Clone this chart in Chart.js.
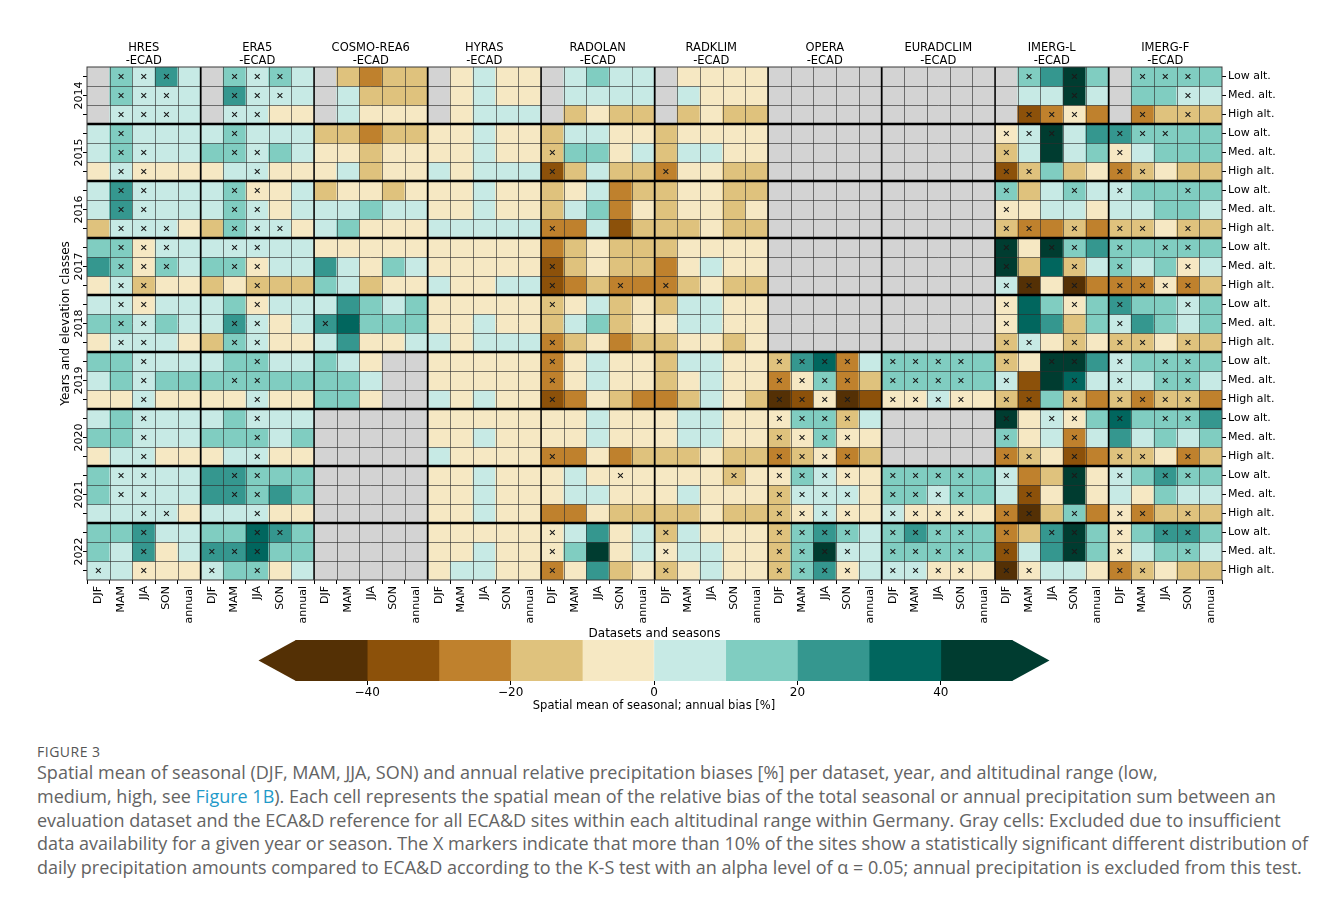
<!DOCTYPE html>
<html>
<head>
<meta charset="utf-8">
<script src="https://cdn.jsdelivr.net/npm/chart.js@4.4.1/dist/chart.umd.min.js"></script>
<style>
  html, body { margin: 0; padding: 0; background: #fff; }
  #wrap { position: relative; width: 1328px; height: 902px; overflow: hidden; background: #fff; }
  #heat { position: absolute; left: 0; top: 0; }
  #cbar { position: absolute; left: 0; top: 634px; }
  #figlabel { position: absolute; left: 37px; top: 742px; font-family: "Open Sans", sans-serif;
              font-size: 14px; letter-spacing: 0.5px; color: #555; }
  #caption { position: absolute; left: 37px; top: 761px; font-family: "Open Sans", sans-serif;
             font-size: 18px; line-height: 23.75px; color: #636363; white-space: nowrap; }
  #caption a { color: #1f9ac9; text-decoration: none; }
</style>
</head>
<body>
<div id="wrap">
  <canvas id="heat" width="1328" height="645"></canvas>
  <canvas id="cbar" width="1328" height="82"></canvas>
  <div id="figlabel">FIGURE 3</div>
  <div id="caption">Spatial mean of seasonal (DJF, MAM, JJA, SON) and annual relative precipitation biases [%] per dataset, year, and altitudinal range (low,<br>medium, high, see <a>Figure 1B</a>). Each cell represents the spatial mean of the relative bias of the total seasonal or annual precipitation sum between an<br>evaluation dataset and the ECA&amp;D reference for all ECA&amp;D sites within each altitudinal range within Germany. Gray cells: Excluded due to insufficient<br>data availability for a given year or season. The X markers indicate that more than 10% of the sites show a statistically significant different distribution of<br>daily precipitation amounts compared to ECA&amp;D according to the K-S test with an alpha level of α = 0.05; annual precipitation is excluded from this test.</div>
</div>
<script>
// ---- categories ----
const YEARS = ['2014', '2015', '2016', '2017', '2018', '2019', '2020', '2021', '2022'];
const ELEVATIONS = ['Low alt.', 'Med. alt.', 'High alt.'];
const SEASONS = ['DJF', 'MAM', 'JJA', 'SON', 'annual'];
const DATASETS = [
  ['HRES', '-ECAD'], ['ERA5', '-ECAD'], ['COSMO-REA6', '-ECAD'], ['HYRAS', '-ECAD'], ['RADOLAN', '-ECAD'],
  ['RADKLIM', '-ECAD'], ['OPERA', '-ECAD'], ['EURADCLIM', '-ECAD'], ['IMERG-L', '-ECAD'], ['IMERG-F', '-ECAD']
];

// ---- colour classes of the bias [%] ----
const LEVELS = [-50, -40, -30, -20, -10, 0, 10, 20, 30, 40, 50];
const PALETTE = ['#543005', '#8c510a', '#bf812d', '#dfc27d', '#f6e8c3', '#c7eae5', '#80cdc1', '#35978f', '#01665e', '#003c30'];
const CB_TICKS = [-40, -20, 0, 20, 40];
const EXCLUDED = '#d3d3d3';

// ---- spatial mean bias [%]; rows = year x (low, med, high), cols = DJF, MAM, JJA, SON, annual ----
const N = null; // excluded
const HRES = [
  [N, 15, 5, 25, 5], [N, 15, 5, 5, 5], [N, 5, 5, 5, 5],
  [5, 15, 5, 5, 5], [5, 15, 5, 5, 5], [-5, 5, -5, -5, -5],
  [5, 25, 5, 5, 5], [5, 25, 5, 5, 5], [-15, 5, 5, 5, -5],
  [15, 15, -5, 5, 5], [25, 15, -5, 15, 5], [-5, 5, -15, -5, -5],
  [5, 5, -5, 5, 5], [15, 15, 5, 15, 5], [-5, 5, 5, 5, -5],
  [15, 15, 5, 5, 5], [5, 15, 5, 15, 15], [-5, -5, 5, -5, -5],
  [5, 15, 5, 5, 5], [15, 15, 5, 5, 5], [-5, 5, 5, -5, -5],
  [15, 5, 5, 5, 5], [15, 5, 5, 5, 5], [5, 5, 5, 5, -5],
  [15, 15, 25, 5, 5], [15, 5, 25, -5, 5], [5, 5, -5, -5, -5]
];
const ERA5 = [
  [N, 15, 5, 15, 5], [N, 25, 5, 5, 5], [N, 5, 5, -5, -5],
  [5, 15, 5, 5, 5], [15, 15, 5, 15, 5], [-5, 5, 5, -5, -5],
  [5, 15, -5, -5, 5], [5, 15, 5, -5, 5], [-15, 15, 5, 5, -5],
  [5, 5, 5, 5, 5], [15, 15, -5, 5, 5], [-15, -5, -15, -15, -15],
  [5, 15, -5, 5, 5], [5, 25, 5, -5, 5], [-15, 15, 5, -5, -5],
  [5, 15, 15, 5, 5], [15, 15, 15, 15, 15], [-5, -5, 5, -5, -5],
  [5, 15, 5, 5, 5], [15, 15, 15, 5, 15], [-5, 5, 5, -5, -5],
  [25, 25, 15, 15, 15], [25, 25, 15, 25, 15], [5, 5, 5, -5, -5],
  [15, 15, 35, 25, 15], [25, 25, 35, 15, 15], [5, 15, 15, -5, 5]
];
const COSMO = [
  [N, -15, -25, -15, -15], [N, 5, -15, -15, -15], [N, 5, -5, -5, -5],
  [-15, -15, -25, -15, -15], [-5, -5, -15, -5, -5], [-5, 5, -15, -5, -5],
  [-15, -5, -5, -15, -5], [5, 5, 15, 5, 5], [5, 15, -5, -5, -5],
  [-5, -5, -5, -5, -5], [25, 5, -5, 15, 5], [15, 5, -15, -5, -5],
  [5, 25, 15, 5, 15], [25, 35, 15, 15, 15], [5, 25, -5, -5, 5],
  [15, 5, -5, N, N], [15, 15, 5, N, N], [15, 15, -5, N, N],
  [N, N, N, N, N], [N, N, N, N, N], [N, N, N, N, N],
  [N, N, N, N, N], [N, N, N, N, N], [N, N, N, N, N],
  [N, N, N, N, N], [N, N, N, N, N], [N, N, N, N, N]
];
const HYRAS = [
  [N, -5, 5, -5, -5], [N, -5, 5, -5, -5], [N, -5, 5, 5, 5],
  [-5, -5, 5, -5, -5], [-5, -5, 5, -5, -5], [5, -5, 5, 5, 5],
  [-5, -5, 5, -5, -5], [-5, -5, 5, -5, -5], [5, 5, 5, 5, 5],
  [-5, -5, -5, -5, -5], [-5, -5, -5, -5, -5], [5, -5, -5, 5, 5],
  [-5, -5, -5, -5, -5], [-5, -5, 5, -5, -5], [5, -5, 5, 5, 5],
  [-5, -5, -5, -5, -5], [-5, -5, -5, -5, -5], [5, -5, 5, -5, -5],
  [-5, -5, -5, -5, -5], [-5, -5, 5, -5, -5], [5, -5, -5, -5, -5],
  [-5, -5, 5, -5, -5], [-5, -5, 5, -5, -5], [-5, -5, 5, -5, -5],
  [-5, -5, -5, -5, -5], [-5, -5, 5, -5, -5], [-5, 5, 5, -5, -5]
];
const RADOLAN = [
  [N, 5, 15, 5, 5], [N, 5, 5, 5, 5], [N, -15, -5, -15, -15],
  [-15, 5, 5, -5, -5], [-15, 15, 15, -5, 5], [-35, -15, 5, -15, -15],
  [-15, -5, 5, -25, -15], [-15, 5, 15, -25, -5], [-25, -25, 5, -35, -15],
  [-25, -15, -5, -15, -15], [-35, -15, -5, -15, -15], [-35, -25, -15, -25, -25],
  [-15, -5, 5, -15, -5], [-15, 5, 15, -15, -5], [-25, -15, -5, -25, -15],
  [-25, -5, 5, -5, -5], [-25, -5, 5, -5, -5], [-35, -25, -5, -15, -25],
  [-5, -5, 5, -5, -5], [-5, -5, 5, -5, -5], [-25, -25, -5, -25, -15],
  [-5, 5, -5, -5, -5], [-5, 5, 5, -5, -5], [-25, -25, -5, -15, -15],
  [-5, 5, 25, -5, 5], [-5, 15, 45, -5, 5], [-25, -5, 25, -15, -5]
];
const RADKLIM = [
  [N, -5, -5, -5, -5], [N, 5, -5, -5, -5], [N, -15, -5, -15, -15],
  [-15, -5, -5, -5, -5], [-15, 5, 5, -5, -5], [-25, -5, -5, -15, -15],
  [-15, -5, -5, -15, -15], [-15, -5, -5, -15, -5], [-15, -15, -5, -15, -15],
  [-15, -5, -5, -5, -5], [-25, -5, 5, -5, -5], [-25, -15, -5, -15, -15],
  [-15, 5, 5, -5, -5], [-5, 5, 5, -5, -5], [-15, -5, -5, -15, -5],
  [-15, 5, 5, -5, -5], [-15, -5, 5, -5, -5], [-25, -15, 5, -5, -15],
  [-5, 5, 5, -5, -5], [-5, 5, 5, -5, -5], [-15, -15, -5, -15, -15],
  [-5, -5, -5, -15, -5], [-5, 5, -5, -5, -5], [-15, -15, -5, -15, -15],
  [-15, 5, -5, -5, -5], [-5, 5, 5, -5, -5], [-15, -5, 5, -5, -5]
];
const OPERA = [
  [N, N, N, N, N], [N, N, N, N, N], [N, N, N, N, N],
  [N, N, N, N, N], [N, N, N, N, N], [N, N, N, N, N],
  [N, N, N, N, N], [N, N, N, N, N], [N, N, N, N, N],
  [N, N, N, N, N], [N, N, N, N, N], [N, N, N, N, N],
  [N, N, N, N, N], [N, N, N, N, N], [N, N, N, N, N],
  [-15, 25, 35, -25, 5], [-25, -5, 15, -25, -15], [-45, -35, -5, -45, -35],
  [-5, 15, 15, -15, 5], [-15, -5, 15, -5, -5], [-25, -15, -5, -25, -15],
  [-5, 15, 5, -5, -5], [-15, 5, 5, 5, -5], [-15, -5, 5, -5, -5],
  [-15, 15, 25, 15, 5], [-15, 15, 45, 5, 5], [-15, 15, 25, -5, 5]
];
const EURADCLIM = [
  [N, N, N, N, N], [N, N, N, N, N], [N, N, N, N, N],
  [N, N, N, N, N], [N, N, N, N, N], [N, N, N, N, N],
  [N, N, N, N, N], [N, N, N, N, N], [N, N, N, N, N],
  [N, N, N, N, N], [N, N, N, N, N], [N, N, N, N, N],
  [N, N, N, N, N], [N, N, N, N, N], [N, N, N, N, N],
  [15, 15, 15, 15, 15], [15, 15, 15, 15, 15], [-5, -5, 5, -5, -5],
  [N, N, N, N, N], [N, N, N, N, N], [N, N, N, N, N],
  [15, 15, 15, 15, 15], [15, 15, 5, 15, 15], [5, -5, -5, -5, -5],
  [15, 25, 15, 15, 15], [15, 15, 15, 15, 15], [5, 5, -5, -5, -5]
];
const IMERG_L = [
  [N, 15, 25, 45, 15], [N, 5, 5, 45, 5], [N, -35, -25, -5, -25],
  [-5, 5, 45, 5, 25], [-15, 5, 45, 5, 15], [-35, -15, 15, -15, -5],
  [15, -15, 5, 15, 5], [-5, -5, 5, 5, -5], [-15, -25, -25, -15, -25],
  [45, -5, 45, 15, 25], [45, -15, 35, -15, 5], [5, -45, -5, -45, -25],
  [-5, 35, 15, -5, 15], [-5, 35, 25, -15, 15], [-15, 5, -5, -15, -5],
  [-15, -5, 45, 45, 25], [5, -35, 45, 35, 5], [-15, -35, 15, -15, -25],
  [45, -5, 5, -5, 15], [15, -5, 5, -25, 5], [-25, -15, -5, -35, -25],
  [5, -25, -15, 45, -5], [5, -35, -5, 45, -5], [-25, -45, -15, 15, -25],
  [-25, -15, 25, 45, 15], [-35, 5, 25, 45, 15], [-45, -5, 5, 5, -5]
];
const IMERG_F = [
  [N, 15, 15, 15, 15], [N, 15, 15, 5, 5], [N, -25, -15, -15, -15],
  [25, 15, 15, 15, 15], [-5, 5, 15, 15, 15], [-25, -15, -5, -15, -15],
  [5, 15, 15, 15, 15], [5, 5, 15, 15, 5], [-15, -15, -5, -15, -15],
  [15, 15, 15, 15, 15], [15, 5, 15, -5, 5], [-25, -25, -5, -25, -15],
  [25, 15, 15, 5, 15], [5, 25, 15, 5, 15], [-15, -15, -5, -15, -15],
  [5, 15, 15, 15, 15], [5, 5, 15, 15, 5], [-15, -25, -15, -15, -25],
  [35, 15, 15, 15, 25], [25, 5, 15, 5, 15], [-15, -15, -5, -25, -15],
  [5, 15, 25, 15, 15], [5, -5, 15, 5, 5], [-5, -25, -15, -15, -15],
  [-5, 15, 25, 25, 15], [-5, 5, 15, 15, 5], [-25, -15, -5, -15, -15]
];

// ---- K-S test: 'x' = more than 10% of sites significantly different ----
const HRES_KS = ['.xxx.', '.xxx.', '.xxx.', '.x...', '.xx..', '.xx..', '.xx..', '.xx..', '.xxx.',
  '.xxx.', '.xxx.', '.xx..', '.xx..', '.xx..', '.xx..', '..x..', '..x..', '..x..',
  '..x..', '..x..', '..x..', '.xx..', '.xx..', '..xx.', '..x..', '..x..', 'x.x..'];
const ERA5_KS = ['.xxx.', '.xxx.', '.xx..', '.x...', '.xx..', '..x..', '.xx..', '.xx..', '.xxx.',
  '.xx..', '.xx..', '..x..', '..x..', '.xx..', '.xx..', '..x..', '.xx..', '..x..',
  '..x..', '..x..', '..x..', '.xx..', '.xx..', '..x..', '..xx.', 'xxx..', 'x.x..'];
const COSMO_KS = ['.....', '.....', '.....', '.....', '.....', '.....', '.....', '.....', '.....',
  '.....', '.....', '.....', '.....', 'x....', '.....', '.....', '.....', '.....',
  '.....', '.....', '.....', '.....', '.....', '.....', '.....', '.....', '.....'];
const HYRAS_KS = ['.....', '.....', '.....', '.....', '.....', '.....', '.....', '.....', '.....',
  '.....', '.....', '.....', '.....', '.....', '.....', '.....', '.....', '.....',
  '.....', '.....', '.....', '.....', '.....', '.....', '.....', '.....', '.....'];
const RADOLAN_KS = ['.....', '.....', '.....', '.....', 'x....', 'x....', '.....', '.....', 'x....',
  '.....', 'x....', 'x..x.', 'x....', '.....', 'x....', 'x....', 'x....', 'x....',
  '.....', '.....', 'x....', '...x.', '.....', '.....', 'x....', 'x....', 'x....'];
const RADKLIM_KS = ['.....', '.....', '.....', '.....', '.....', 'x....', '.....', '.....', '.....',
  '.....', '.....', 'x....', '.....', '.....', '.....', '.....', '.....', '.....',
  '.....', '.....', '.....', '...x.', '.....', '.....', 'x....', 'x....', 'x....'];
const OPERA_KS = ['.....', '.....', '.....', '.....', '.....', '.....', '.....', '.....', '.....',
  '.....', '.....', '.....', '.....', '.....', '.....', 'xxxx.', 'xxxx.', 'xxxx.',
  'xxxx.', 'xxxx.', 'xxxx.', 'xxxx.', 'xxxx.', 'xxxx.', 'xxxx.', 'xxxx.', 'xxxx.'];
const EURADCLIM_KS = ['.....', '.....', '.....', '.....', '.....', '.....', '.....', '.....', '.....',
  '.....', '.....', '.....', '.....', '.....', '.....', 'xxxx.', 'xxxx.', 'xxxx.',
  '.....', '.....', '.....', 'xxxx.', 'xxxx.', 'xxxx.', 'xxxx.', 'xxxx.', 'xxxx.'];
const IMERG_L_KS = ['.x.x.', '...x.', '.xxx.', 'xxx..', 'x....', 'xx...', 'x..x.', 'x....', 'xx.x.',
  'x.xx.', 'x..x.', 'xx.x.', 'x..x.', 'x....', 'xx.x.', 'x.xx.', 'x..x.', 'xx.x.',
  'x.xx.', 'x..x.', 'xx.x.', 'x..x.', '.x...', 'xx.x.', 'x.xx.', 'x..x.', 'xx...'];
const IMERG_F_KS = ['.xxx.', '...x.', '.x.x.', 'xxx..', 'x....', 'xx...', 'x..x.', '.....', 'xx.x.',
  'x.xx.', 'x..x.', 'xxxx.', 'x..x.', 'x....', 'xx.x.', 'x.xx.', 'x.xx.', 'xxxx.',
  'x.xx.', '.....', 'xx.x.', 'x.xx.', '.....', 'xx.x.', 'x.xx.', 'x..x.', 'xx...'];

const BIAS = [HRES, ERA5, COSMO, HYRAS, RADOLAN, RADKLIM, OPERA, EURADCLIM, IMERG_L, IMERG_F];
const KS = [HRES_KS, ERA5_KS, COSMO_KS, HYRAS_KS, RADOLAN_KS, RADKLIM_KS, OPERA_KS, EURADCLIM_KS, IMERG_L_KS, IMERG_F_KS];

// ---- derived structures ----
const NROWS = YEARS.length * ELEVATIONS.length;
const colKeys = [];
const topLabels = [];
DATASETS.forEach((d, di) => SEASONS.forEach((s, si) => {
  colKeys.push(d[0] + '|' + s);
  topLabels.push(si === 2 ? d : '');
}));

function colorFor(v) {
  if (v === null) return EXCLUDED;
  for (let i = 0; i < PALETTE.length; i++) {
    if (v < LEVELS[i + 1]) return PALETTE[i];
  }
  return PALETTE[PALETTE.length - 1];
}

const FONT = 'DejaVu Sans';
const cellSets = [];
for (let r = 0; r < NROWS; r++) {
  const data = [], colors = [];
  BIAS.forEach(tbl => tbl[r].forEach(v => { data.push([r, r + 1]); colors.push(colorFor(v)); }));
  cellSets.push({
    type: 'bar', data, backgroundColor: colors, borderWidth: 0,
    grouped: false, barPercentage: 1, categoryPercentage: 1, order: 1,
    xAxisID: 'x', yAxisID: 'y'
  });
}
const marks = [];
KS.forEach((rows, di) => rows.forEach((str, r) => str.split('').forEach((ch, si) => {
  if (ch === 'x') marks.push({ x: colKeys[di * SEASONS.length + si], y: r + 0.5 });
})));
const markSet = {
  type: 'line', data: marks, showLine: false, order: 0,
  pointStyle: 'crossRot', pointRadius: 3.4, pointHoverRadius: 3.4,
  pointBorderWidth: 1.1, borderColor: '#1a1a1a', pointBorderColor: '#1a1a1a',
  pointBackgroundColor: 'rgba(0,0,0,0)', xAxisID: 'x', yAxisID: 'y'
};

// cell grid, dataset and year separators, axis labels on the left
const heatDecor = {
  id: 'heatDecor',
  afterDatasetsDraw(chart) {
    const { ctx, chartArea: { left, right, top, bottom }, scales: { x, y } } = chart;
    ctx.save();
    ctx.strokeStyle = 'rgba(45,45,45,0.62)';
    ctx.lineWidth = 1;
    ctx.beginPath();
    for (let c = 1; c < colKeys.length; c++) {
      const px = Math.round(x.getPixelForValue(c - 0.5)) + 0.5;
      ctx.moveTo(px, top); ctx.lineTo(px, bottom);
    }
    for (let r = 1; r < NROWS; r++) {
      const py = Math.round(y.getPixelForValue(r)) + 0.5;
      ctx.moveTo(left, py); ctx.lineTo(right, py);
    }
    ctx.stroke();
    ctx.strokeStyle = '#000';
    ctx.lineWidth = 1.4;
    ctx.beginPath();
    for (let d = 1; d < DATASETS.length; d++) {
      const px = x.getPixelForValue(d * SEASONS.length - 0.5);
      ctx.moveTo(px, top); ctx.lineTo(px, bottom);
    }
    ctx.stroke();
    ctx.lineWidth = 2.6;
    ctx.beginPath();
    for (let k = 1; k < YEARS.length; k++) {
      const py = y.getPixelForValue(k * ELEVATIONS.length);
      ctx.moveTo(left, py); ctx.lineTo(right, py);
    }
    ctx.stroke();
    ctx.strokeStyle = '#3a3a3a';
    ctx.lineWidth = 1;
    ctx.strokeRect(left, top, right - left, bottom - top);
    ctx.restore();
  },
  afterDraw(chart) {
    const { ctx, chartArea: { top, bottom }, scales: { y } } = chart;
    ctx.save();
    ctx.fillStyle = '#000';
    ctx.textAlign = 'center';
    ctx.textBaseline = 'middle';
    ctx.font = '11px "' + FONT + '"';
    YEARS.forEach((yr, k) => {
      const py = y.getPixelForValue(k * ELEVATIONS.length + 1.5);
      ctx.save(); ctx.translate(79, py); ctx.rotate(-Math.PI / 2); ctx.fillText(yr, 0, 0); ctx.restore();
    });
    ctx.font = '12px "' + FONT + '"';
    ctx.save(); ctx.translate(66, (top + bottom) / 2); ctx.rotate(-Math.PI / 2);
    ctx.fillText('Years and elevation classes', 0, 0); ctx.restore();
    ctx.restore();
  }
};

const rowTicks = s => { s.ticks = Array.from({ length: NROWS }, (_, i) => ({ value: i + 0.5 })); };

new Chart(document.getElementById('heat'), {
  type: 'bar',
  data: { labels: colKeys, datasets: [markSet, ...cellSets] },
  options: {
    responsive: false, animation: false, events: [],
    plugins: { legend: { display: false }, tooltip: { enabled: false } },
    layout: { padding: 0 },
    scales: {
      x: {
        type: 'category', position: 'bottom', offset: true,
        grid: { display: true, drawOnChartArea: false, drawTicks: true, tickLength: 4, color: '#000', lineWidth: 1 },
        border: { display: false },
        ticks: {
          autoSkip: false, minRotation: 90, maxRotation: 90, padding: 2, color: '#000',
          font: { family: FONT, size: 11 },
          callback: (v, i) => colKeys[i].split('|')[1]
        },
        title: { display: true, text: 'Datasets and seasons', color: '#000', font: { family: FONT, size: 12 }, padding: { top: 0, bottom: 4 } },
        afterFit(s) { s.height = 65; }
      },
      xTop: {
        type: 'category', position: 'top', offset: true, labels: topLabels,
        grid: { display: false, drawTicks: false, tickLength: 0 },
        border: { display: false },
        ticks: { autoSkip: false, minRotation: 0, maxRotation: 0, padding: -1, color: '#000',
                 font: { family: FONT, size: 11.5, lineHeight: 1.15 } },
        afterFit(s) { s.height = 67; }
      },
      y: {
        type: 'linear', position: 'left', min: 0, max: NROWS, reverse: true,
        grid: { display: true, drawOnChartArea: false, tickLength: 4, color: '#000' },
        border: { display: false },
        afterBuildTicks: rowTicks,
        ticks: { callback: () => '', padding: 0 },
        afterFit(s) { s.width = 87; }
      },
      yR: {
        type: 'linear', position: 'right', min: 0, max: NROWS, reverse: true,
        grid: { display: true, drawOnChartArea: false, tickLength: 4, color: '#000' },
        border: { display: false },
        afterBuildTicks: rowTicks,
        ticks: { color: '#000', padding: 2, font: { family: FONT, size: 11 },
                 callback: (v, i) => ELEVATIONS[i % ELEVATIONS.length] },
        afterFit(s) { s.width = 106; }
      }
    }
  },
  plugins: [heatDecor]
});

// ---- colour bar ----
const cbArrows = {
  id: 'cbArrows',
  afterDatasetsDraw(chart) {
    const { ctx, chartArea: { left, right, top, bottom } } = chart;
    const mid = (top + bottom) / 2, tip = 37;
    ctx.save();
    ctx.fillStyle = PALETTE[0];
    ctx.beginPath(); ctx.moveTo(left + 0.5, top); ctx.lineTo(left - tip, mid); ctx.lineTo(left + 0.5, bottom); ctx.closePath(); ctx.fill();
    ctx.fillStyle = PALETTE[PALETTE.length - 1];
    ctx.beginPath(); ctx.moveTo(right - 0.5, top); ctx.lineTo(right + tip, mid); ctx.lineTo(right - 0.5, bottom); ctx.closePath(); ctx.fill();
    ctx.restore();
  }
};

new Chart(document.getElementById('cbar'), {
  type: 'bar',
  data: {
    labels: [''],
    datasets: PALETTE.map((c, i) => ({
      data: [[LEVELS[i], LEVELS[i + 1]]], backgroundColor: c, borderWidth: 0,
      grouped: false, barPercentage: 1, categoryPercentage: 1
    }))
  },
  options: {
    indexAxis: 'y', responsive: false, animation: false, events: [],
    plugins: { legend: { display: false }, tooltip: { enabled: false } },
    layout: { padding: { left: 295.5, right: 315.5, top: 6, bottom: 0 } },
    scales: {
      x: {
        type: 'linear', min: LEVELS[0], max: LEVELS[LEVELS.length - 1],
        afterBuildTicks(s) { s.ticks = CB_TICKS.map(v => ({ value: v })); },
        grid: { display: true, drawOnChartArea: false, tickLength: 4, color: '#000' },
        border: { display: false },
        ticks: { color: '#000', padding: 1, font: { family: FONT, size: 12 },
                 callback: v => (v < 0 ? '\u2212' + Math.abs(v) : String(v)) },
        title: { display: true, text: 'Spatial mean of seasonal; annual bias [%]', color: '#000',
                 font: { family: FONT, size: 11.5 }, padding: { top: 0, bottom: 3 } },
        afterFit(s) { s.height = 35; }
      },
      y: { display: false }
    }
  },
  plugins: [cbArrows]
});
</script>
</body>
</html>
